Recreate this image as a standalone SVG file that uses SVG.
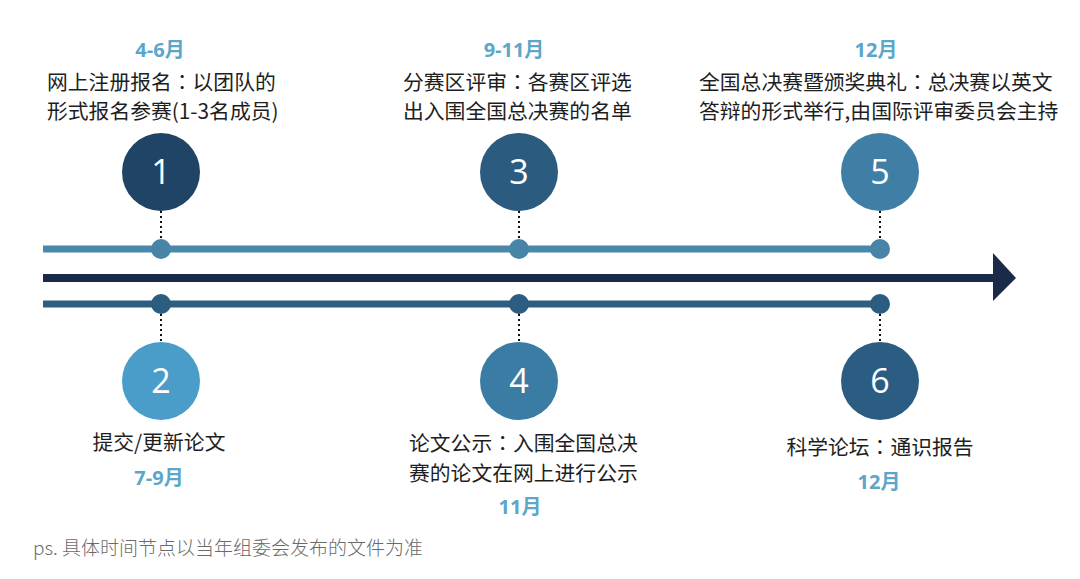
<svg xmlns="http://www.w3.org/2000/svg" width="1080" height="579" viewBox="0 0 1080 579">
<style>
.date{font-family:"Open Sans","Noto Sans CJK SC",sans-serif;font-weight:700;font-size:20px;fill:#5ba6c9;text-anchor:middle}
.desc{font-family:"Noto Sans CJK SC","Noto Sans",sans-serif;font-size:20.8px;fill:#1e1e1e}
.c{font-family:"Noto Sans CJK TC",sans-serif}
.mid{text-anchor:middle}
.num{font-family:"Open Sans","Noto Sans",sans-serif;font-size:34px;fill:#fff;text-anchor:middle}
.dot{stroke:#111;stroke-width:2;stroke-dasharray:2 3}
.note{font-family:"Noto Sans CJK SC","Noto Sans",sans-serif;font-size:19px;fill:#6a6a6a;font-weight:300}
</style>
<rect width="1080" height="579" fill="#fff"/>
<g id="connectors">
  <line x1="161" y1="211" x2="161" y2="249" class="dot"/>
  <line x1="519" y1="211" x2="519" y2="249" class="dot"/>
  <line x1="880" y1="211" x2="880" y2="249" class="dot"/>
  <line x1="161" y1="304" x2="161" y2="342" class="dot"/>
  <line x1="519" y1="304" x2="519" y2="342" class="dot"/>
  <line x1="880" y1="304" x2="880" y2="342" class="dot"/>
  <line x1="43" y1="249" x2="880" y2="249" stroke="#4a88ab" stroke-width="7"/>
  <line x1="43" y1="304" x2="880" y2="304" stroke="#2f5f80" stroke-width="7"/>
  <line x1="43" y1="278" x2="995" y2="278" stroke="#1b2a48" stroke-width="8"/>
  <polygon points="993,253 1016,278 993,301" fill="#1b2a48"/>
  <circle cx="161" cy="249" r="10" fill="#4784a8"/>
  <circle cx="519" cy="249" r="10" fill="#4784a8"/>
  <circle cx="880" cy="249" r="10" fill="#4784a8"/>
  <circle cx="161" cy="304" r="10" fill="#2c5c7f"/>
  <circle cx="519" cy="304" r="10" fill="#2c5c7f"/>
  <circle cx="880" cy="304" r="10" fill="#2c5c7f"/>
</g>
<g id="node1">
  <text x="160" y="57" class="date">4-6月</text>
  <text x="47" y="90" class="desc">网上注册报名<tspan class="c">：</tspan>以团队的</text>
  <text x="47" y="119" class="desc">形式报名参赛(1-3名成员)</text>
  <circle cx="161" cy="172" r="39" fill="#1f4466"/>
  <text x="161" y="184" class="num">1</text>
</g>
<g id="node3">
  <text x="514" y="57" class="date">9-11月</text>
  <text x="403" y="90" class="desc">分赛区评审<tspan class="c">：</tspan>各赛区评选</text>
  <text x="403" y="119" class="desc">出入围全国总决赛的名单</text>
  <circle cx="519" cy="172" r="39" fill="#2c5b80"/>
  <text x="519" y="184" class="num">3</text>
</g>
<g id="node5">
  <text x="876" y="57" class="date">12月</text>
  <text x="699" y="90" class="desc">全国总决赛暨颁奖典礼<tspan class="c">：</tspan>总决赛以英文</text>
  <text x="699" y="119" class="desc">答辩的形式举行,由国际评审委员会主持</text>
  <circle cx="880" cy="172" r="39" fill="#3f7fa6"/>
  <text x="880" y="184" class="num">5</text>
</g>
<g id="node2">
  <circle cx="161" cy="381" r="39" fill="#4a9dc9"/>
  <text x="161" y="393" class="num">2</text>
  <text x="159" y="450" class="desc mid">提交/更新论文</text>
  <text x="159" y="485" class="date">7-9月</text>
</g>
<g id="node4">
  <circle cx="519" cy="381" r="39" fill="#3b7ca4"/>
  <text x="519" y="393" class="num">4</text>
  <text x="409" y="451" class="desc">论文公示<tspan class="c">：</tspan>入围全国总决</text>
  <text x="409" y="481" class="desc">赛的论文在网上进行公示</text>
  <text x="520" y="514" class="date">11月</text>
</g>
<g id="node6">
  <circle cx="880" cy="381" r="39" fill="#2b5d82"/>
  <text x="880" y="393" class="num">6</text>
  <text x="880" y="455" class="desc mid">科学论坛<tspan class="c">：</tspan>通识报告</text>
  <text x="879" y="489" class="date">12月</text>
</g>
<text x="33" y="555" class="note">ps. 具体时间节点以当年组委会发布的文件为准</text>
</svg>
